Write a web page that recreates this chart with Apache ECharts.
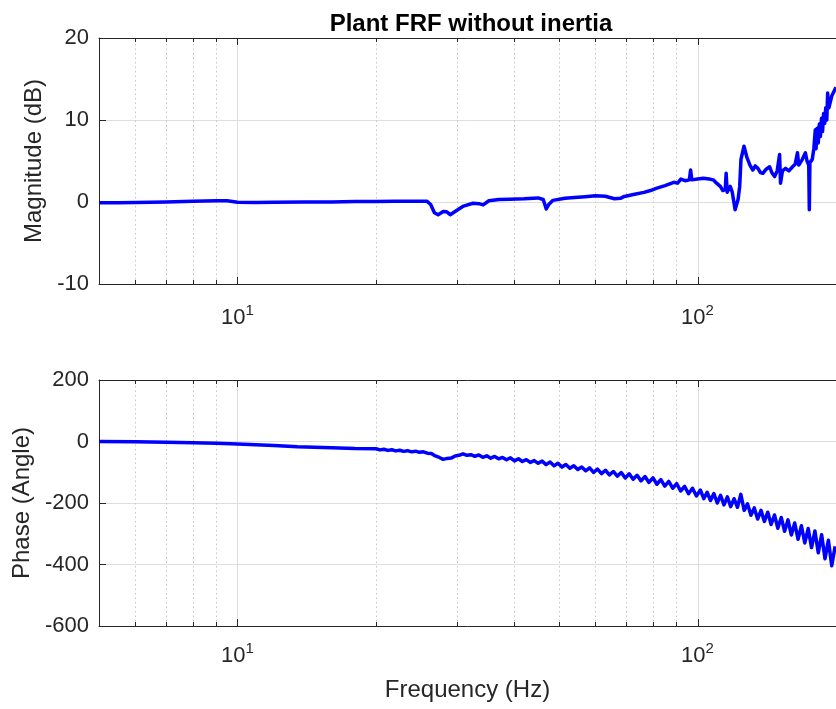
<!DOCTYPE html>
<html><head><meta charset="utf-8">
<script src="https://cdn.jsdelivr.net/npm/echarts@6/dist/echarts.min.js"></script>
<style>html,body{margin:0;padding:0;background:#fff}#c{width:836px;height:709px}</style>
</head><body><div id="c"></div>
<script>
// ---- data ----
const magFreq = [5, 5.5, 6, 7, 8, 9, 9.5, 10, 11, 12, 14, 16, 18, 20, 22, 24, 25.8, 26.3, 26.8, 27.3, 28.0, 28.5, 29.0, 30.0, 31.0, 32.5, 33.5, 34.2, 35.2, 37, 39, 42, 45, 46.2, 46.9, 47.5, 48.5, 51.5, 54, 57, 60, 63, 66, 68, 69.3, 73, 76.5, 79, 81.6, 85, 88.8, 90.5, 92, 94, 96, 96.6, 97.2, 100, 103, 106, 108.2, 110, 112.1, 113.5, 114.9, 115.4, 116, 117.8, 119, 120.7, 122.5, 123.5, 124.3, 126.2, 128.1, 130, 131.9, 133.5, 135.3, 137, 138.7, 141, 143.5, 145, 147.1, 149, 150.8, 151.5, 153, 155.4, 158, 160.9, 163, 164.9, 166, 169, 171.6, 173, 174.5, 175.0, 175.5, 177.6, 179, 180.3, 181, 182, 183, 184, 185, 186, 187, 188, 189, 190, 191, 191.8, 193, 196, 200];
const magDb = [-0.1, -0.08, -0.05, 0.0, 0.1, 0.15, 0.15, -0.02, -0.05, -0.02, 0.0, 0.0, 0.05, 0.05, 0.08, 0.1, 0.1, -0.3, -1.3, -1.55, -1.15, -1.2, -1.55, -1.0, -0.5, -0.15, -0.2, -0.35, 0.15, 0.3, 0.35, 0.4, 0.5, 0.3, -0.85, -0.3, 0.2, 0.45, 0.55, 0.65, 0.75, 0.7, 0.4, 0.45, 0.68, 0.95, 1.17, 1.4, 1.7, 2.0, 2.4, 2.3, 2.8, 2.6, 2.7, 3.9, 2.7, 2.8, 2.9, 2.8, 2.7, 2.3, 1.9, 1.4, 1.5, 3.5, 1.2, 1.9, 1.2, -0.95, 0.3, 1.9, 5.2, 6.8, 5.4, 4.5, 3.9, 4.4, 4.1, 3.6, 3.5, 4.0, 4.3, 3.6, 3.1, 3.8, 5.8, 2.3, 3.8, 4.1, 3.8, 4.3, 4.6, 6.0, 4.5, 5.2, 6.0, 5.0, 4.5, -0.95, 4.8, 5.2, 6.5, 8.8, 6.5, 9.0, 7.2, 9.5, 8.0, 10.2, 8.6, 10.8, 9.6, 11.5, 10.0, 13.3, 11.5, 13, 14];

const phaseFreq = [5, 6, 7, 8, 9, 10, 12, 13.5, 16, 18,
  20.0, 20.4, 20.81, 21.22, 21.65, 22.08, 22.52, 22.97, 23.43, 23.9, 24.38, 24.87, 25.36, 25.87, 26.39, 26.92, 27.46, 28.0, 28.56, 29.14, 29.72, 30.31, 30.92, 31.54, 32.17, 32.81, 33.47, 34.14, 34.82, 35.52, 36.23, 36.95, 37.69, 38.44, 39.21, 40.0, 40.8, 41.61, 42.44, 43.29, 44.16, 45.04, 45.94, 46.86, 47.8, 48.76, 49.73, 50.73, 51.74, 52.78, 53.83, 54.91, 56.01, 57.13, 58.27, 59.44, 60.62, 61.84, 63.07, 64.33, 65.62, 66.93, 68.27, 69.64, 71.03, 72.45, 73.9, 75.38, 76.89, 78.42, 79.99, 81.59, 83.23, 84.89, 86.59, 88.32, 90.09, 91.89, 93.73, 95.6, 97.51, 99.46, 101.45, 103.18, 104.93, 106.72, 108.53, 110.38, 112.25, 114.16, 116.1, 118.07, 120.08, 122.12, 124.2, 126.31, 128.46, 130.64, 132.86, 135.12, 137.42, 139.75, 142.13, 144.54, 147.0, 149.5, 152.04, 154.63, 157.26, 159.93, 162.65, 165.41, 168.22, 171.08, 173.99, 176.95, 179.96, 183.02, 186.13, 189.29, 192.51, 195.78, 199.11];
const phaseDeg = [0, -1, -2.5, -4, -6, -8, -13, -17, -20, -23,
  -23.5, -27.3, -25.1, -28.9, -26.7, -30.5, -28.3, -32.1, -29.9, -33.7, -31.5, -35.3, -33.5, -38, -39, -47, -52, -58, -55, -54, -47, -45, -40, -45, -43, -48,
  -43.7, -51.3, -46.7, -54.3, -48.7, -56.3, -51.7, -59.3,
  -53, -63, -56, -65, -59, -68, -62, -71,
  -63.8, -75.2, -66.8, -79.2, -70.8, -83.2, -74.8, -87.2, -78.8, -91.2, -82.8, -95.2,
  -85.5, -100.5, -89.5, -104.5, -93.5, -108.5, -97.5, -112.5,
  -101, -119, -105, -123, -110, -128, -114, -133,
  -118, -139, -124, -145, -130, -152,
  -137, -161, -146, -170,
  -152, -177,
  -158, -186, -165, -192,
  -169, -200, -175, -206,
  -180, -212,
  -186, -214, -172, -224,
  -203, -240, -216, -252, -224, -260, -230, -270, -239, -282, -247, -292, -255, -304, -265, -318, -274, -330, -283, -345, -291, -362, -303, -381, -321, -404, -341];

const freqRange = [5, 200];
const majorTicks = [10, 100];
const minorTicks = [6, 7, 8, 9, 20, 30, 40, 50, 60, 70, 80, 90];
const magTicks = [-10, 0, 10, 20];
const phaseTicks = [-600, -400, -200, 0, 200];

// ---- chart ----
const FONT = '"Liberation Sans", Arial, Helvetica, sans-serif';
const AX = '#262626';
const chart = echarts.init(document.getElementById('c'), null, {renderer: 'canvas'});

function zip(a, b) { return a.map((v, i) => [v, b[i]]); }

function xLabelFmt(v) {
  for (const t of majorTicks) {
    if (Math.abs(v - t) < 1e-6 * t) return '{b|10}{s|' + Math.round(Math.log10(t)) + '}';
  }
  return '';
}
const xRich = {
  b: {fontSize: 22, fontFamily: FONT, color: AX, lineHeight: 26, verticalAlign: 'bottom'},
  s: {fontSize: 15, fontFamily: FONT, color: AX, lineHeight: 26, verticalAlign: 'top'}
};

function bottomX(gi, margin, extra) {
  return Object.assign({
    type: 'log', logBase: 10, gridIndex: gi, position: 'bottom',
    min: freqRange[0], max: freqRange[1],
    axisLine: {show: true, onZero: false, lineStyle: {color: AX, width: 1}},
    axisTick: {show: false},
    axisLabel: {show: true, formatter: xLabelFmt, rich: xRich, margin: margin, showMinLabel: false, showMaxLabel: false, hideOverlap: false},
    splitLine: {show: false},
    minorTick: {show: false}, minorSplitLine: {show: false}
  }, extra || {});
}
function topX(gi) {
  return {
    type: 'log', logBase: 10, gridIndex: gi, position: 'top',
    min: freqRange[0], max: freqRange[1],
    axisLine: {show: true, onZero: false, lineStyle: {color: AX, width: 1}},
    axisTick: {show: false}, axisLabel: {show: false}, splitLine: {show: false}
  };
}
function leftY(gi, ticks, name, nameGap) {
  return {
    type: 'value', gridIndex: gi,
    min: ticks[0], max: ticks[ticks.length - 1], interval: ticks[1] - ticks[0],
    axisLine: {show: true, onZero: false, lineStyle: {color: AX, width: 1}},
    axisTick: {show: true, inside: true, length: 7, lineStyle: {color: AX}},
    axisLabel: {fontSize: 22, fontFamily: FONT, color: AX, margin: 10},
    splitLine: {show: true, lineStyle: {color: '#dedede', width: 1}},
    name: name, nameLocation: 'middle', nameGap: nameGap, nameRotate: 90,
    nameTextStyle: {fontSize: 24, fontFamily: FONT, color: AX}
  };
}
function xDecor(yMin, yMax) {
  return function (params, api) {
    const v = api.value(0);
    const major = majorTicks.indexOf(v) >= 0;
    const p0 = api.coord([v, yMin]);
    const p1 = api.coord([v, yMax]);
    const x = Math.round(p0[0]) + 0.5;
    const tl = major ? 7 : 4;
    return {type: 'group', children: [
      {type: 'line', shape: {x1: x, y1: p0[1], x2: x, y2: p1[1]},
        style: major ? {stroke: '#dedede', lineWidth: 1} : {stroke: '#c4c4c4', lineWidth: 1, lineDash: [1.5, 3]}},
      {type: 'line', shape: {x1: x, y1: p0[1], x2: x, y2: p0[1] - tl}, style: {stroke: AX, lineWidth: 1}},
      {type: 'line', shape: {x1: x, y1: p1[1], x2: x, y2: p1[1] + tl}, style: {stroke: AX, lineWidth: 1}}
    ]};
  };
}
const decorTicks = majorTicks.concat(minorTicks);

const option = {
  animation: false,
  backgroundColor: '#ffffff',
  title: {
    text: 'Plant FRF without inertia', left: 471, top: 12, textAlign: 'center', padding: 0,
    textStyle: {fontSize: 24, fontWeight: 'bold', fontFamily: FONT, color: '#000'}
  },
  grid: [
    {left: 99, right: -8, top: 38, height: 246, containLabel: false},
    {left: 99, right: -8, top: 380, height: 246, containLabel: false}
  ],
  xAxis: [
    bottomX(0, 19),
    bottomX(1, 15, {name: 'Frequency (Hz)', nameLocation: 'middle', nameGap: 52,
      nameTextStyle: {fontSize: 24, fontFamily: FONT, color: AX}}),
    topX(0), topX(1)
  ],
  yAxis: [
    leftY(0, magTicks, 'Magnitude (dB)', 47),
    leftY(1, phaseTicks, 'Phase (Angle)', 62)
  ],
  series: [
    {type: 'custom', xAxisIndex: 0, yAxisIndex: 0, silent: true, z: 1,
      renderItem: xDecor(magTicks[0], magTicks[magTicks.length - 1]),
      data: decorTicks.map(v => [v, 0]), encode: {x: 0, y: 1}},
    {type: 'custom', xAxisIndex: 1, yAxisIndex: 1, silent: true, z: 1,
      renderItem: xDecor(phaseTicks[0], phaseTicks[phaseTicks.length - 1]),
      data: decorTicks.map(v => [v, 0]), encode: {x: 0, y: 1}},
    {type: 'line', xAxisIndex: 0, yAxisIndex: 0, data: zip(magFreq, magDb), showSymbol: false, symbol: 'none',
      z: 5, lineStyle: {color: '#0000ff', width: 3.5, join: 'round'}},
    {type: 'line', xAxisIndex: 1, yAxisIndex: 1, data: zip(phaseFreq, phaseDeg), showSymbol: false, symbol: 'none',
      z: 5, lineStyle: {color: '#0000ff', width: 3.5, join: 'round'}}
  ]
};
chart.setOption(option);
</script>
</body></html>
